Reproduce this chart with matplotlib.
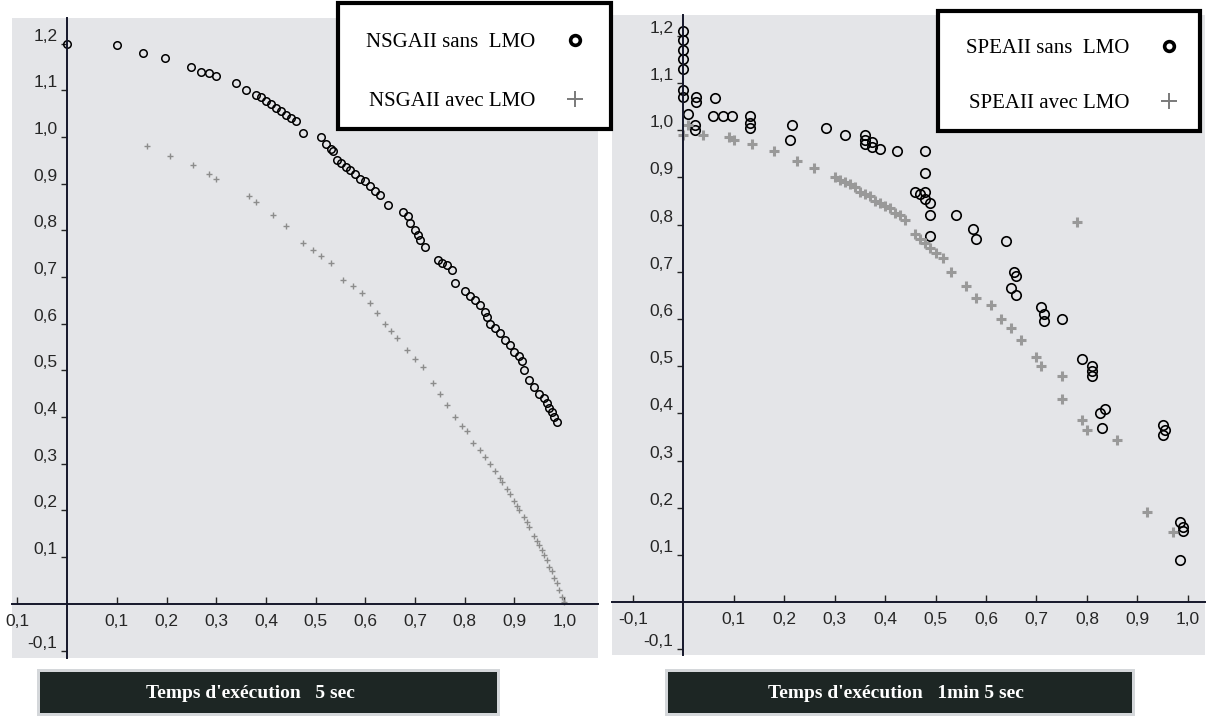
import matplotlib
matplotlib.use("Agg")
import matplotlib.pyplot as plt
from matplotlib.patches import Rectangle

# --- NSGAII, 5 s run -------------------------------------------------------
nsga_sans_x = [0.0, 0.10, 0.153, 0.197, 0.25, 0.27, 0.285, 0.30, 0.34, 0.36,
               0.38, 0.39, 0.40, 0.41, 0.42, 0.43, 0.44, 0.45, 0.46, 0.475,
               0.51, 0.52, 0.53, 0.535, 0.543, 0.55, 0.56, 0.57, 0.58, 0.59,
               0.60, 0.61, 0.62, 0.63, 0.646, 0.676, 0.685, 0.69, 0.70, 0.705,
               0.71, 0.72, 0.746, 0.755, 0.765, 0.775, 0.78, 0.80, 0.81, 0.82,
               0.83, 0.84, 0.845, 0.85, 0.86, 0.87, 0.88, 0.89, 0.90, 0.91,
               0.915, 0.92, 0.93, 0.94, 0.95, 0.96, 0.965, 0.97, 0.975, 0.98,
               0.985]
nsga_sans_y = [1.20, 1.197, 1.18, 1.17, 1.15, 1.14, 1.137, 1.13, 1.115, 1.10,
               1.09, 1.085, 1.078, 1.07, 1.062, 1.055, 1.048, 1.04, 1.035, 1.008,
               1.0, 0.985, 0.975, 0.97, 0.95, 0.945, 0.935, 0.93, 0.92, 0.91,
               0.905, 0.895, 0.885, 0.875, 0.855, 0.84, 0.83, 0.815, 0.80, 0.79,
               0.78, 0.765, 0.737, 0.73, 0.725, 0.715, 0.687, 0.67, 0.66, 0.65,
               0.64, 0.625, 0.615, 0.60, 0.59, 0.58, 0.565, 0.555, 0.54, 0.53,
               0.52, 0.50, 0.48, 0.465, 0.45, 0.44, 0.43, 0.42, 0.41, 0.40,
               0.39]

nsga_avec_x = [0.16, 0.207, 0.254, 0.285, 0.30, 0.365, 0.38, 0.415, 0.44, 0.475,
               0.495, 0.51, 0.53, 0.555, 0.575, 0.593, 0.61, 0.624, 0.64, 0.652,
               0.664, 0.684, 0.70, 0.716, 0.736, 0.75, 0.765, 0.78, 0.795, 0.805,
               0.817, 0.83, 0.84, 0.85, 0.86, 0.87, 0.875, 0.885, 0.89, 0.90,
               0.905, 0.91, 0.92, 0.925, 0.93, 0.94, 0.945, 0.95, 0.955, 0.96,
               0.965, 0.97, 0.975, 0.98, 0.985, 0.99, 0.995, 1.0]
nsga_avec_y = [0.98, 0.96, 0.94, 0.92, 0.91, 0.874, 0.86, 0.833, 0.81, 0.773,
               0.758, 0.745, 0.73, 0.694, 0.68, 0.666, 0.645, 0.623, 0.60, 0.585,
               0.57, 0.544, 0.525, 0.507, 0.473, 0.45, 0.425, 0.40, 0.38, 0.37,
               0.345, 0.33, 0.315, 0.30, 0.285, 0.27, 0.26, 0.245, 0.235, 0.22,
               0.21, 0.20, 0.185, 0.175, 0.165, 0.145, 0.135, 0.125, 0.115, 0.105,
               0.095, 0.08, 0.07, 0.055, 0.045, 0.03, 0.015, 0.005]

# --- SPEAII, 1 min 5 s run -------------------------------------------------
spea_sans_x = [0.0, 0.0, 0.0, 0.0, 0.0, 0.0, 0.0,
               0.01, 0.026, 0.026, 0.024, 0.024,
               0.063, 0.06, 0.078, 0.097,
               0.133, 0.133, 0.133,
               0.216, 0.212, 0.283, 0.32,
               0.36, 0.36, 0.36, 0.375, 0.375, 0.39,
               0.424, 0.48, 0.48,
               0.46, 0.47, 0.48, 0.48, 0.49,
               0.49, 0.54, 0.49,
               0.575, 0.58, 0.64,
               0.655, 0.66, 0.65, 0.66,
               0.71, 0.715, 0.715, 0.75,
               0.79, 0.81, 0.81, 0.81,
               0.825, 0.835, 0.83,
               0.95, 0.955, 0.95,
               0.985, 0.99, 0.99, 0.985]
spea_sans_y = [1.21, 1.19, 1.17, 1.15, 1.13, 1.085, 1.07,
               1.035, 1.07, 1.06, 1.01, 1.0,
               1.068, 1.03, 1.03, 1.03,
               1.03, 1.015, 1.005,
               1.01, 0.98, 1.005, 0.99,
               0.99, 0.98, 0.97, 0.975, 0.965, 0.96,
               0.955, 0.955, 0.91,
               0.87, 0.865, 0.87, 0.855, 0.845,
               0.82, 0.82, 0.775,
               0.79, 0.77, 0.765,
               0.70, 0.69, 0.665, 0.65,
               0.625, 0.61, 0.595, 0.60,
               0.515, 0.50, 0.49, 0.48,
               0.40, 0.41, 0.37,
               0.375, 0.365, 0.355,
               0.17, 0.16, 0.15, 0.09]

spea_avec_x = [0.0, 0.01, 0.04, 0.09, 0.10, 0.137, 0.18, 0.225, 0.26, 0.30,
               0.31, 0.32, 0.33, 0.34, 0.35, 0.36, 0.37, 0.38, 0.39, 0.40,
               0.41, 0.42, 0.43, 0.44, 0.46, 0.47, 0.48, 0.49, 0.50, 0.515,
               0.53, 0.56, 0.58, 0.61, 0.63, 0.65, 0.67, 0.70, 0.71, 0.75,
               0.75, 0.78, 0.79, 0.80, 0.86, 0.92, 0.97]
spea_avec_y = [0.99, 1.01, 0.99, 0.985, 0.98, 0.97, 0.955, 0.935, 0.92, 0.90,
               0.895, 0.89, 0.885, 0.88, 0.87, 0.865, 0.86, 0.85, 0.845, 0.84,
               0.835, 0.825, 0.82, 0.81, 0.78, 0.77, 0.76, 0.75, 0.74, 0.73,
               0.70, 0.67, 0.645, 0.63, 0.60, 0.58, 0.555, 0.52, 0.50, 0.48,
               0.43, 0.805, 0.385, 0.365, 0.343, 0.19, 0.148]

# --- axis ticks ------------------------------------------------------------
x_ticks = [-0.1, 0.1, 0.2, 0.3, 0.4, 0.5, 0.6, 0.7, 0.8, 0.9, 1.0]
x_labels_nsga = ["0,1", "0,1", "0,2", "0,3", "0,4", "0,5", "0,6", "0,7",
                 "0,8", "0,9", "1,0"]
x_labels_spea = ["-0,1", "0,1", "0,2", "0,3", "0,4", "0,5", "0,6", "0,7",
                 "0,8", "0,9", "1,0"]
y_ticks = [-0.1, 0.1, 0.2, 0.3, 0.4, 0.5, 0.6, 0.7, 0.8, 0.9, 1.0, 1.1, 1.2]
y_labels = ["-0,1", "0,1", "0,2", "0,3", "0,4", "0,5", "0,6", "0,7", "0,8",
            "0,9", "1,0", "1,1", "1,2"]

legend_nsga = ["NSGAII sans  LMO", "NSGAII avec LMO"]
legend_spea = ["SPEAII sans  LMO", "SPEAII avec LMO"]
captions = ["Temps d'exécution   5 sec", "Temps d'exécution   1min 5 sec"]

PANEL = "#e4e5e8"
DARK = "#1d2624"
PLUS_GREY = "#8c8c8c"

W, H = 1214, 721
fig = plt.figure(figsize=(W / 100, H / 100), dpi=100)
fig.patch.set_facecolor("white")


def box(x0, y0, x1, y1):
    """Pixel box (top-left origin) -> figure-fraction [left, bottom, w, h]."""
    return [x0 / W, 1 - y1 / H, (x1 - x0) / W, (y1 - y0) / H]


def style_axes(ax, xlim, ylim, xlabels):
    ax.set_facecolor(PANEL)
    ax.set_xlim(*xlim)
    ax.set_ylim(*ylim)
    for side in ("top", "right"):
        ax.spines[side].set_visible(False)
    for side in ("left", "bottom"):
        ax.spines[side].set_position(("data", 0))
        ax.spines[side].set_color("#15172a")
        ax.spines[side].set_linewidth(1.4)
    ax.set_xticks(x_ticks, xlabels)
    ax.set_yticks(y_ticks, y_labels)
    ax.tick_params(axis="x", direction="in", length=5, width=1.0, pad=7,
                   colors="#262626", labelsize=12.5)
    ax.tick_params(axis="y", direction="out", length=4, width=1.0, pad=3,
                   colors="#262626", labelsize=12.5)
    for lab in ax.get_xticklabels() + ax.get_yticklabels():
        lab.set_family("Liberation Sans")
    for lab in ax.get_yticklabels():
        lab.set_va("bottom")


ax1 = fig.add_axes(box(12, 18, 598, 658))
ax2 = fig.add_axes(box(612, 15, 1205, 655))
style_axes(ax1, (-0.111, 1.068), (-0.116, 1.255), x_labels_nsga)
style_axes(ax2, (-0.141, 1.034), (-0.112, 1.244), x_labels_spea)

# NSGAII series
h1, = ax1.plot(nsga_sans_x, nsga_sans_y, ls="none", marker="o", ms=5.4,
               mfc="none", mec="black", mew=1.1, label=legend_nsga[0])
h2, = ax1.plot(nsga_avec_x, nsga_avec_y, ls="none", marker="+", ms=5,
               color=PLUS_GREY, mew=1.0, label=legend_nsga[1])

# SPEAII series
h3, = ax2.plot(spea_sans_x, spea_sans_y, ls="none", marker="o", ms=6.8,
               mfc="none", mec="black", mew=1.2, label=legend_spea[0])
h4, = ax2.plot(spea_avec_x, spea_avec_y, ls="none", marker="+", ms=7.5,
               color="#999999", mew=2.2, label=legend_spea[1])


def framed_legend(handles, labels, frame_px, anchor_px, spacing):
    x0, y0, x1, y1 = frame_px
    fig.add_artist(Rectangle((x0 / W, 1 - y1 / H), (x1 - x0) / W, (y1 - y0) / H,
                             transform=fig.transFigure, facecolor="white",
                             edgecolor="black", linewidth=3.0, zorder=5))
    leg = fig.legend(handles, labels, loc="upper left",
                     bbox_to_anchor=(anchor_px[0] / W, 1 - anchor_px[1] / H),
                     frameon=False, markerfirst=False, borderpad=0,
                     labelspacing=spacing, handlelength=1.6, handletextpad=1.1,
                     prop={"family": "Liberation Serif", "size": 15})
    leg.set_zorder(6)
    return leg


leg1 = framed_legend([h1, h2], legend_nsga, (338, 3, 611, 129), (356, 22), 1.9)
leg2 = framed_legend([h3, h4], legend_spea, (938, 11, 1200, 131), (956, 28), 1.7)
for leg in (leg1, leg2):
    circ, plus = leg.legend_handles
    circ.set_markersize(7)
    circ.set_markeredgewidth(2.6)
    circ.set_markeredgecolor("black")
    plus.set_markersize(12)
    plus.set_markeredgewidth(1.4)
    plus.set_color("#7a7a7a")

# caption bars under each panel
for (x0, x1, cx), text in zip([(40, 497, 250), (668, 1132, 896)], captions):
    fig.add_artist(Rectangle(((x0 - 3) / W, 1 - 716 / H), (x1 - x0 + 6) / W, 47 / H,
                             transform=fig.transFigure, facecolor="#d4d7da",
                             edgecolor="none", zorder=3))
    fig.add_artist(Rectangle((x0 / W, 1 - 713 / H), (x1 - x0) / W, 41 / H,
                             transform=fig.transFigure, facecolor=DARK,
                             edgecolor="none", zorder=4))
    fig.text(cx / W, 1 - 693 / H, text, color="white", ha="center", va="center",
             family="Liberation Serif", weight="bold", size=14, zorder=5)

fig.savefig("out.png", dpi=100, facecolor="white")
